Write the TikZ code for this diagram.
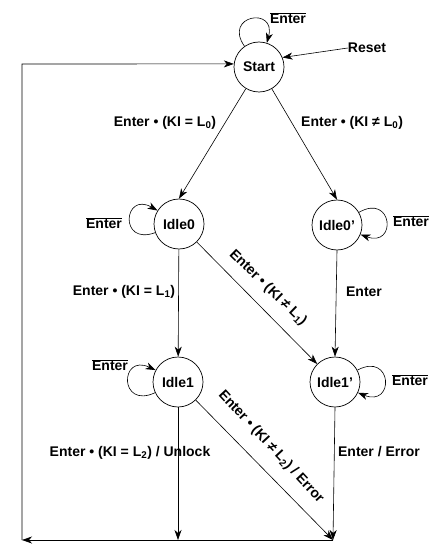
\documentclass[tikz,border=0pt]{standalone}
\usepackage{fontspec}
\setmainfont{Liberation Sans}
\usetikzlibrary{arrows.meta}
\newcommand{\nEnter}{$\overline{\mbox{Enter}}$}
\begin{document}
\begin{tikzpicture}[x=1pt,y=1pt,
  state/.style={circle,draw,line width=0.7pt,minimum size=50pt,inner sep=0pt,font=\fontsize{14}{16}\selectfont\bfseries},
  lbl/.style={font=\fontsize{14}{16}\selectfont\bfseries,inner sep=0pt},
  conn/.style={line width=0.6pt,-{Stealth[length=10pt,width=7pt,inset=3pt]}},
  plain/.style={line width=0.6pt}]
\useasboundingbox (0,0) rectangle (444,-556);
% states
\node[state] (Start) at (259,-67) {Start};
\node[state] (Idle0) at (179,-224) {Idle0};
\node[state] (Idle0p) at (337,-225) {Idle0'};
\node[state] (Idle1) at (178,-382) {Idle1};
\node[state] (Idle1p) at (335,-382) {Idle1'};
% junction coordinates
\coordinate (J) at (333,-540);
\coordinate (B) at (178,-540);
\coordinate (C1) at (22,-540);
\coordinate (C2) at (22,-64);
% start self loop and reset
\draw[conn] (Start.125) to[out=125,in=75,looseness=4.3] (Start.72);
\node[lbl] (lStart) at (288,-18) {\nEnter};
\node[lbl] (Reset) at (367,-48) {Reset};
\draw[conn] (Reset.west) -- (Start.22);
% start transitions
\draw[conn] (Start) -- (Idle0.north);
\draw[conn] (Start) -- (Idle0p.north);
\node[lbl] (l1) at (165,-123) {Enter • (KI = L\textsubscript{0})};
\node[lbl,anchor=west] (l2) at (301,-123) {Enter • (KI ≠ L\textsubscript{0})};
% idle0 loops
\draw[conn] (Idle0.200) to[out=200,in=150,looseness=4.5] (Idle0.148);
\node[lbl] (lI0) at (104,-223) {\nEnter};
\draw[conn] (Idle0p.30) to[out=30,in=-20,looseness=4.5] (Idle0p.-22);
\node[lbl] (lI0p) at (411,-221) {\nEnter};
% idle0 transitions
\draw[conn] (Idle0) -- (Idle1);
\node[lbl] (l3) at (124,-292) {Enter • (KI = L\textsubscript{1})};
\draw[conn] (Idle0p.south) -- (Idle1p.north);
\node[lbl] (l4) at (364,-292) {Enter};
\draw[conn] (Idle0) -- (Idle1p);
\node[lbl,rotate=-44] (l5) at (268,-288) {Enter • (KI ≠ L\textsubscript{1})};
% idle1 loops
\draw[conn] (Idle1.205) to[out=205,in=155,looseness=4.5] (Idle1.152);
\node[lbl] (lI1) at (110,-365) {\nEnter};
\draw[conn] (Idle1p.28) to[out=28,in=-22,looseness=4.5] (Idle1p.-25);
\node[lbl] (lI1p) at (410,-380) {\nEnter};
% idle1 transitions
\draw[conn] (Idle1) -- (B);
\node[lbl] (l6) at (130,-453) {Enter • (KI = L\textsubscript{2}) / Unlock};
\draw[conn] (Idle1) -- (J);
\node[lbl,rotate=-47] (l7) at (271,-447) {Enter • (KI ≠ L\textsubscript{2}) / Error};
\draw[conn] (Idle1p.south) -- (J);
\node[lbl] (l8) at (379,-452) {Enter / Error};
% return path
\draw[conn] (J) -- (C1);
\draw[conn] (C1) -- (C2) -- (Start.173);
\end{tikzpicture}
\end{document}
